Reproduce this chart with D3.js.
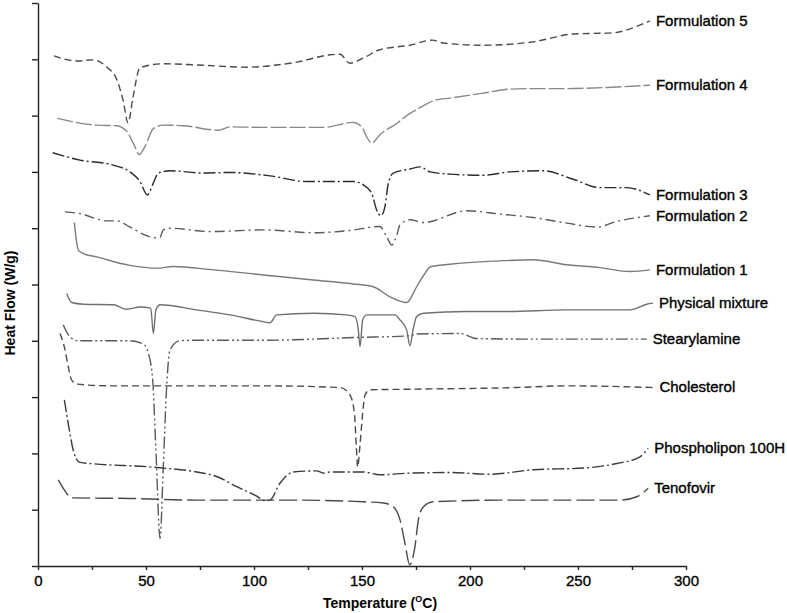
<!DOCTYPE html>
<html>
<head>
<meta charset="utf-8">
<title>DSC thermograms</title>
<script src="https://d3js.org/d3.v7.min.js"></script>
<style>
  body { margin: 0; background: #fff; }
  svg { display: block; font-family: "Liberation Sans", Arial, sans-serif; }
  .lbl { font-size: 15px; fill: #000; stroke: #000; stroke-width: 0.35; }
  .ttl { font-size: 14px; font-weight: bold; fill: #000; }
  .axis path, .axis line { stroke: #222; stroke-width: 1.4; }
  .axis text { font-size: 15px; fill: #000; stroke: #000; stroke-width: 0.35; font-family: "Liberation Sans", Arial, sans-serif; }
</style>
</head>
<body>
<div id="chart"></div>
<script>
// values: [temperature °C, heat flow (offset, arbitrary units)]
const formulation5 = [[7.4,9.06],[18.1,8.97],[25.5,8.99],[31.9,8.86],[36.6,8.63],[39.4,8.27],[41.7,7.87],[44.0,8.33],[47.2,8.85],[57.9,8.92],[73.6,8.90],[96.8,8.86],[110.6,8.90],[119.9,8.95],[135.2,9.08],[139.8,9.09],[144.4,8.93],[150.5,9.02],[158.3,9.17],[172.2,9.25],[182.4,9.34],[187.5,9.29],[206,9.25],[229.2,9.31],[247.7,9.45],[266.2,9.47],[282,9.66],[283.3,9.68]];
const formulation4 = [[8.9,7.95],[27.2,7.83],[36.4,7.82],[41.1,7.72],[44.1,7.51],[46.9,7.31],[49.5,7.45],[53.4,7.77],[58.0,7.83],[67.3,7.82],[83.5,7.74],[88.9,7.80],[104.3,7.79],[132.1,7.79],[146.0,7.88],[149.9,7.80],[152.2,7.62],[154.5,7.51],[158.3,7.66],[166.1,7.86],[172.2,8.04],[173.6,8.07],[184.6,8.28],[190.7,8.31],[206.2,8.40],[218.5,8.47],[229.2,8.48],[244.8,8.48],[263.3,8.50],[283.3,8.54]];
const formulation3 = [[6.8,7.34],[19.4,7.21],[34.9,7.12],[42.6,7.00],[47.2,6.83],[50.6,6.59],[53.4,6.80],[55.7,6.98],[61.1,7.02],[76.5,6.98],[88.9,6.99],[107.4,6.93],[124.4,6.83],[146.0,6.83],[150.6,6.77],[154.5,6.62],[156.8,6.32],[158.7,6.22],[160.6,6.38],[162.2,6.80],[164.5,6.98],[172.2,7.05],[176.9,7.09],[181.5,7.00],[190.7,6.96],[206.2,6.94],[218.5,7.00],[233.9,7.02],[247.8,6.87],[260.2,6.72],[272.5,6.72],[283.3,6.59]];
const formulation2 = [[12.5,6.29],[19.4,6.26],[31.8,6.13],[36.4,6.13],[42.6,6.02],[48.8,5.89],[54.2,5.83],[56.5,5.84],[58.0,5.97],[61.1,6.00],[79.6,5.94],[104.3,5.97],[127.5,5.92],[144.4,5.96],[158.3,6.03],[161.4,5.85],[163.8,5.70],[166.1,5.88],[167.6,6.06],[172.2,6.15],[178.4,6.10],[198.5,6.31],[213.9,6.25],[229.3,6.19],[244.8,6.09],[258.7,6.02],[267.9,6.12],[283.3,6.22]];
const formulation1 = [[16.8,6.10],[18.7,5.61],[21.0,5.55],[27.2,5.49],[42.6,5.34],[55.0,5.29],[62.6,5.32],[81.2,5.26],[104.3,5.17],[127.5,5.08],[146.0,5.01],[155.2,4.96],[163.0,4.78],[170.7,4.68],[175.3,4.96],[179.2,5.20],[181.5,5.31],[190.7,5.36],[213.9,5.42],[229.3,5.44],[244.8,5.35],[260.2,5.30],[274.1,5.23],[283.3,5.26]];
const physicalMixture = [[13.3,4.84],[15.6,4.68],[21.0,4.65],[34.9,4.64],[41.1,4.56],[47.2,4.60],[52.2,4.58],[53.4,4.13],[54.6,4.55],[56.5,4.64],[73.5,4.55],[88.9,4.46],[104.3,4.34],[107.4,4.32],[110.5,4.46],[127.5,4.49],[142.9,4.46],[146.8,4.43],[148.3,4.19],[149.1,3.90],[150.3,4.37],[152.2,4.46],[165.3,4.46],[167.6,4.37],[170.7,4.19],[172.2,3.91],[173.6,4.19],[175.3,4.43],[178.4,4.49],[198.5,4.52],[217.0,4.52],[244.8,4.55],[274.1,4.55],[281.8,4.65],[284.7,4.67]];
const stearylamine = [[11.7,4.28],[14.8,4.07],[18.7,4.00],[42.6,4.00],[48.8,3.94],[51.1,3.78],[53.1,3.30],[54.2,2.42],[54.9,1.76],[56.5,0.49],[58.0,1.76],[59.6,3.21],[61.1,3.84],[65.7,4.00],[73.5,4.01],[104.3,4.01],[148.3,4.06],[172.2,4.09],[175.3,4.12],[195.4,4.13],[203.1,4.04],[229.3,4.03],[281.8,4.03]];
const cholesterol = [[10.2,4.13],[12.5,3.84],[14.0,3.54],[15.6,3.30],[18.2,3.23],[33.3,3.20],[75.0,3.20],[104.3,3.20],[139.8,3.17],[144.4,3.04],[146.5,2.71],[147.4,2.10],[148.0,1.76],[149.0,2.12],[150.3,2.71],[151.4,3.04],[153.7,3.13],[172.2,3.14],[221.6,3.17],[244.8,3.20],[284.9,3.17]];
const phospholipon = [[12.2,2.95],[14.0,2.53],[16.3,2.06],[19.4,1.84],[55.0,1.75],[73.5,1.67],[82.7,1.59],[92.0,1.41],[101.3,1.24],[105.1,1.16],[107.4,1.17],[112.0,1.47],[118.2,1.67],[129.0,1.69],[132.1,1.65],[135.2,1.67],[150.6,1.67],[158.3,1.62],[172.2,1.65],[190.7,1.66],[209.3,1.63],[229.3,1.71],[252.5,1.74],[267.9,1.82],[278.7,1.94],[282.5,2.09]];
const tenofovir = [[9.4,1.53],[11.7,1.38],[14.8,1.23],[16.3,1.21],[42.6,1.20],[73.5,1.17],[119.8,1.17],[150.6,1.14],[159.9,1.12],[164.5,1.05],[167.6,0.82],[169.9,0.40],[172.1,0.02],[174.5,0.34],[176.1,0.82],[178.4,1.05],[183.0,1.14],[213.9,1.17],[269.4,1.17],[277.2,1.23],[282.5,1.38]];

const seriesNames = ["Formulation 5","Formulation 4","Formulation 3","Formulation 2","Formulation 1","Physical mixture","Stearylamine","Cholesterol","Phospholipon 100H","Tenofovir"];
const seriesValues = [formulation5, formulation4, formulation3, formulation2, formulation1, physicalMixture, stearylamine, cholesterol, phospholipon, tenofovir];
const xTicks = [0, 50, 100, 150, 200, 250, 300];
const xMinorTicks = [25, 75, 125, 175, 225, 275];

// line looks per series (dash pattern, grey level)
const looks = [
  { dash: "7,4", color: "#4a4a4a" },
  { dash: "16,3", color: "#888" },
  { dash: "12,3,2,3", color: "#2a2a2a" },
  { dash: "10,4,2,4", color: "#5a5a5a" },
  { dash: null, color: "#7a7a7a" },
  { dash: null, color: "#707070" },
  { dash: "12,3,2,3,2,3", color: "#5a5a5a" },
  { dash: "7,4", color: "#4a4a4a" },
  { dash: "12,3,2,3", color: "#3a3a3a" },
  { dash: "18,5", color: "#4a4a4a" }
];

const W = 787, H = 613;
const svg = d3.select("#chart").append("svg").attr("width", W).attr("height", H);

const x = d3.scaleLinear().domain([0, 300]).range([38, 686]);
const y = d3.scaleLinear().domain([0, 10]).range([566, 3]);

// axes
svg.append("g").attr("class", "axis")
  .attr("transform", "translate(0,566)")
  .call(d3.axisBottom(x).tickValues(xTicks).tickSize(4).tickSizeOuter(0).tickPadding(5));
svg.append("g").attr("class", "axis")
  .attr("transform", "translate(0,566)")
  .call(d3.axisBottom(x).tickValues(xMinorTicks).tickSize(4).tickSizeOuter(0).tickFormat(""))
  .select(".domain").remove();
svg.append("g").attr("class", "axis")
  .attr("transform", "translate(38,0)")
  .call(d3.axisLeft(y).ticks(10).tickSize(6).tickSizeOuter(0).tickFormat(""));

// curves
const line = d3.line().x(d => x(d[0])).y(d => y(d[1])).curve(d3.curveMonotoneX);
seriesValues.forEach((vals, i) => {
  svg.append("path")
    .datum(vals)
    .attr("d", line)
    .attr("fill", "none")
    .attr("stroke", looks[i].color)
    .attr("stroke-width", 1.4)
    .attr("stroke-dasharray", looks[i].dash);
  const last = vals[vals.length - 1];
  svg.append("text")
    .attr("class", "lbl")
    .attr("x", x(last[0]) + 6)
    .attr("y", y(last[1]) + 1)
    .attr("dominant-baseline", "middle")
    .text(seriesNames[i]);
});

// axis titles
const xt = svg.append("text").attr("class", "ttl")
  .attr("x", 380).attr("y", 608).attr("text-anchor", "middle");
xt.append("tspan").text("Temperature (");
xt.append("tspan").attr("dy", -6).attr("font-size", 9).text("O");
xt.append("tspan").attr("dy", 6).text("C)");

svg.append("text").attr("class", "ttl")
  .attr("transform", "translate(15,303) rotate(-90)")
  .attr("text-anchor", "middle")
  .text("Heat Flow (W/g)");
</script>
</body>
</html>
